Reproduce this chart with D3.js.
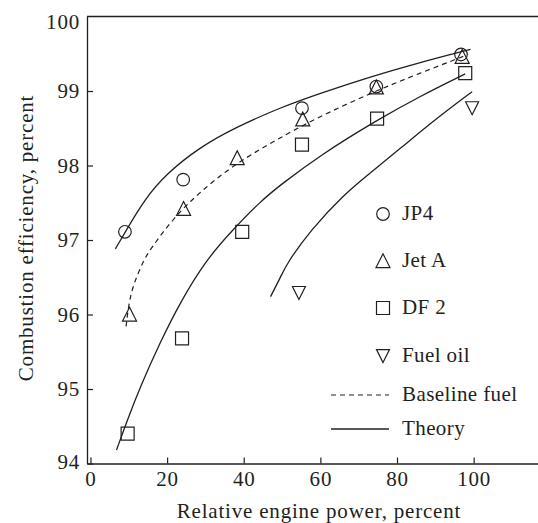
<!DOCTYPE html>
<html><head><meta charset="utf-8">
<script src="https://cdn.jsdelivr.net/npm/d3@7"></script>
<style>
body{margin:0;background:#fff;}
text{font-family:"Liberation Serif","Times New Roman",serif;fill:#231f20;}
</style></head>
<body><svg id="c" width="538" height="523"></svg>
<script>
const xTicks=[0,20,40,60,80,100];
const yTicks=[94,95,96,97,98,99,100];
const jp4=[[9.0,97.11],[24.2,97.81],[55.2,98.77],[74.6,99.06],[96.7,99.49]];
const jetA=[[10.2,96.0],[24.3,97.42],[38.3,98.10],[55.4,98.62],[74.6,99.05],[97.0,99.46]];
const df2=[[9.7,94.40],[23.9,95.68],[39.6,97.11],[55.2,98.28],[74.8,98.63],[97.8,99.24]];
const fuelOil=[[54.4,96.29],[99.6,98.77]];
const theoryJP4=[[6.5,96.88],[9.0,97.10],[14.0,97.54],[20.0,97.90],[28.7,98.25],[37.4,98.50],[49.6,98.78],[60,98.97],[73.0,99.19],[85,99.37],[99.2,99.56]];
const baseline=[[9.3,95.84],[10.0,96.15],[11.3,96.42],[13.9,96.73],[15.7,96.88],[21.7,97.30],[28.7,97.65],[37.4,98.01],[48,98.33],[58.3,98.62],[73.0,98.97],[85,99.22],[98.1,99.48]];
const theoryDF2=[[6.8,94.18],[9.6,94.58],[13.0,95.03],[18.3,95.64],[23.5,96.17],[30.0,96.72],[37.0,97.13],[44.4,97.52],[49.6,97.74],[60.0,98.14],[74.8,98.61],[86,98.93],[97.8,99.23]];
const theoryOil=[[47.0,96.24],[49.6,96.50],[51.3,96.69],[57.4,97.13],[66.1,97.61],[73.0,97.90],[80.9,98.23],[90,98.62],[99.6,98.99]];
const legendItems=["JP4","Jet A","DF 2","Fuel oil","Baseline fuel","Theory"];

const ink="#231f20";
const FS="21px", LS="0.8px";
const svg=d3.select("#c");
const x=d3.scaleLinear().domain([-0.9,117]).range([87,538.8]);
const y=d3.scaleLinear().domain([94,100]).range([463.5,16.5]);

svg.append("line").attr("x1",x.range()[0]).attr("x2",538).attr("y1",y(100)).attr("y2",y(100)).attr("stroke",ink).attr("stroke-width",1.3);
const xa=svg.append("g").attr("transform",`translate(0,${y(94)})`)
  .call(d3.axisBottom(x).tickValues(xTicks).tickFormat(d3.format("d")).tickSizeInner(-6).tickSizeOuter(0));
const ya=svg.append("g").attr("transform",`translate(${x.range()[0]},0)`)
  .call(d3.axisLeft(y).tickValues(yTicks).tickFormat(d3.format("d")).tickSizeInner(-6).tickSizeOuter(0).tickPadding(7));
[xa,ya].forEach(g=>{
  g.select(".domain").attr("stroke",ink).attr("stroke-width",1.3);
  g.selectAll(".tick line").attr("stroke",ink).attr("stroke-width",1.2);
  g.selectAll(".tick text").style("font-family",'"Liberation Serif",serif').style("font-size",FS).style("letter-spacing",LS).attr("fill",ink);
});
xa.selectAll(".tick text").attr("y",8).attr("dy","0.71em");
ya.selectAll(".tick").filter(d=>d===100).select("line").remove();
ya.selectAll(".tick").filter(d=>d===100).select("text").attr("dy","0.55em");
ya.selectAll(".tick").filter(d=>d===94).select("text").attr("dy","0.22em");

const line=d3.line().x(d=>x(d[0])).y(d=>y(d[1])).curve(d3.curveBasis);
[theoryJP4,theoryDF2,theoryOil].forEach(c=>{
  svg.append("path").attr("d",line(c)).attr("fill","none").attr("stroke",ink).attr("stroke-width",1.3);
});
svg.append("path").attr("d",line(baseline)).attr("fill","none").attr("stroke",ink).attr("stroke-width",1.2).attr("stroke-dasharray","5,4");

const shapes={
  circle:"M6.3,0A6.3,6.3,0,1,1,-6.3,0A6.3,6.3,0,1,1,6.3,0Z",
  tri:"M0,-7.2L7,6.6L-7,6.6Z",
  itri:"M0,6.6L6.5,-6.4L-6.5,-6.4Z",
  square:"M-6.5,-6.5H6.5V6.5H-6.5Z"
};
function mark(data,type){
  svg.append("g").selectAll("path").data(data).join("path")
    .attr("d",shapes[type])
    .attr("transform",d=>`translate(${x(d[0])},${y(d[1])})`)
    .attr("fill","none").attr("stroke",ink).attr("stroke-width",1.2);
}
mark(df2,"square");
mark(fuelOil,"itri");
mark(jetA,"tri");
mark(jp4,"circle");

// legend
const lx=383, tx=402, ly=[214,261,308,356,395,429];
const lg=svg.append("g");
["circle","tri","square","itri"].forEach((t,i)=>{
  lg.append("path").attr("d",shapes[t]).attr("transform",`translate(${lx},${ly[i]})`)
    .attr("fill","none").attr("stroke",ink).attr("stroke-width",1.2);
});
lg.append("line").attr("x1",331).attr("x2",389).attr("y1",ly[4]).attr("y2",ly[4]).attr("stroke",ink).attr("stroke-width",1.2).attr("stroke-dasharray","5,4");
lg.append("line").attr("x1",331).attr("x2",389).attr("y1",ly[5]).attr("y2",ly[5]).attr("stroke",ink).attr("stroke-width",1.3);
legendItems.forEach((s,i)=>{
  lg.append("text").attr("x",tx).attr("y",ly[i]+6).style("font-size",FS).style("letter-spacing","0.4px").text(s);
});

svg.append("text").attr("x",319).attr("y",518).attr("text-anchor","middle").style("font-size",FS).style("letter-spacing",LS).text("Relative engine power, percent");
svg.append("text").attr("transform","translate(33,238) rotate(-90)").attr("text-anchor","middle").style("font-size",FS).style("letter-spacing",LS).text("Combustion efficiency, percent");
</script></body></html>
